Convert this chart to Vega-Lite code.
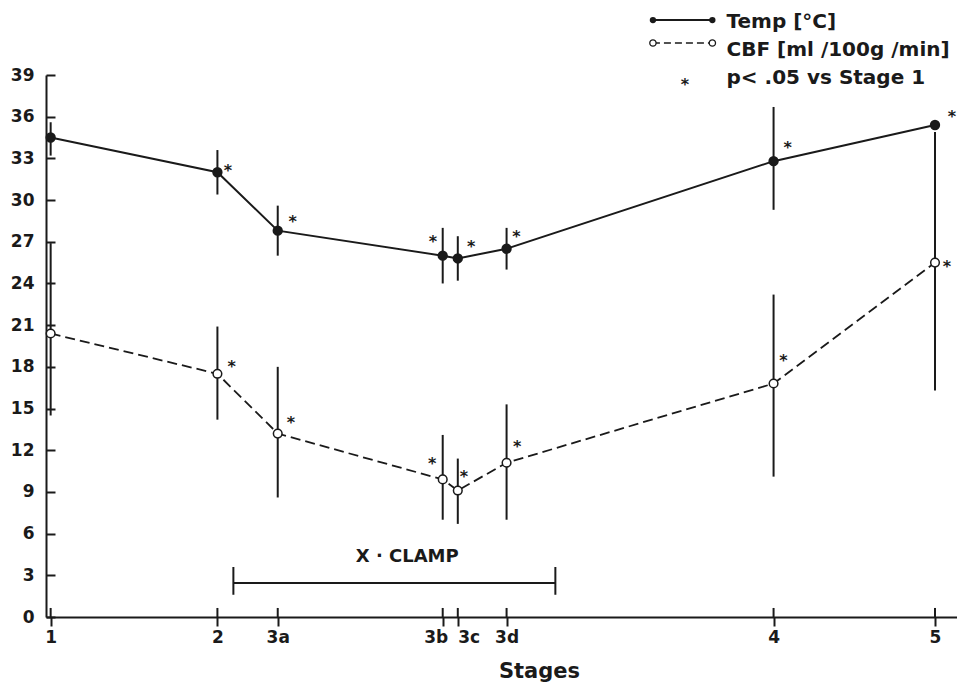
{
  "$schema": "https://vega.github.io/schema/vega-lite/v6.json",
  "width": 911,
  "height": 542,
  "autosize": {"type": "none"},
  "padding": {"left": 46, "top": 75, "right": 0, "bottom": 65},
  "background": "white",
  "config": {"view": {"stroke": null}, "font": "DejaVu Sans"},
  "datasets": {
    "stages": [
      {"stage": "1", "pos": 0.3, "temp": 34.5, "tempLo": 33.2, "tempHi": 35.6, "cbf": 20.4, "cbfLo": 14.5, "cbfHi": 26.9},
      {"stage": "2", "pos": 19.1, "temp": 32.0, "tempLo": 30.4, "tempHi": 33.6, "cbf": 17.5, "cbfLo": 14.2, "cbfHi": 20.9},
      {"stage": "3a", "pos": 25.9, "temp": 27.8, "tempLo": 26.0, "tempHi": 29.6, "cbf": 13.2, "cbfLo": 8.6, "cbfHi": 18.0},
      {"stage": "3b", "pos": 44.5, "temp": 26.0, "tempLo": 24.0, "tempHi": 28.0, "cbf": 9.9, "cbfLo": 7.0, "cbfHi": 13.1},
      {"stage": "3c", "pos": 46.2, "temp": 25.8, "tempLo": 24.2, "tempHi": 27.4, "cbf": 9.1, "cbfLo": 6.7, "cbfHi": 11.4},
      {"stage": "3d", "pos": 51.7, "temp": 26.5, "tempLo": 25.0, "tempHi": 28.0, "cbf": 11.1, "cbfLo": 7.0, "cbfHi": 15.3},
      {"stage": "4", "pos": 81.8, "temp": 32.8, "tempLo": 29.3, "tempHi": 36.7, "cbf": 16.8, "cbfLo": 10.1, "cbfHi": 23.2},
      {"stage": "5", "pos": 100, "temp": 35.4, "tempLo": 35.1, "tempHi": 35.7, "cbf": 25.5, "cbfLo": 16.3, "cbfHi": 34.9}
    ],
    "stars": [
      {"sx": 20.3, "sy": 32.37}, {"sx": 27.6, "sy": 28.7}, {"sx": 43.4, "sy": 27.27},
      {"sx": 47.7, "sy": 26.9}, {"sx": 52.8, "sy": 27.6}, {"sx": 83.4, "sy": 34.0},
      {"sx": 101.9, "sy": 36.3},
      {"sx": 20.7, "sy": 18.27}, {"sx": 27.4, "sy": 14.24}, {"sx": 43.3, "sy": 11.3},
      {"sx": 46.9, "sy": 10.36}, {"sx": 52.9, "sy": 12.5}, {"sx": 82.9, "sy": 18.7},
      {"sx": 101.35, "sy": 25.5},
      {"sx": 71.8, "sy": 38.6}
    ],
    "clamp": [{"x1": 20.9, "x2": 57.2, "y": 2.45}],
    "clampEnds": [{"x": 20.9, "lo": 1.6, "hi": 3.6}, {"x": 57.2, "lo": 1.6, "hi": 3.6}],
    "labels": [
      {"x": 40.5, "y": 4.3, "label": "X · CLAMP", "kind": "clamp"}
    ],
    "legendLines": [
      {"series": "Temp", "x1": 68.2, "x2": 74.9, "y": 42.95},
      {"series": "CBF", "x1": 68.2, "x2": 74.9, "y": 41.3}
    ],
    "legendPts": [
      {"series": "Temp", "x": 68.2, "y": 42.95}, {"series": "Temp", "x": 74.9, "y": 42.95},
      {"series": "CBF", "x": 68.2, "y": 41.3}, {"series": "CBF", "x": 74.9, "y": 41.3}
    ],
    "legendText": [
      {"x": 76.5, "y": 42.8, "label": "Temp [°C]"},
      {"x": 76.5, "y": 40.8, "label": "CBF [ml /100g /min]"},
      {"x": 76.5, "y": 38.8, "label": "p< .05 vs Stage 1"}
    ]
  },
  "layer": [
    {
      "data": {"name": "stages"},
      "mark": {"type": "line", "stroke": "#1a1a1a", "strokeWidth": 2},
      "encoding": {
        "x": {
          "field": "pos", "type": "quantitative",
          "scale": {"domain": [-0.225, 102.48], "nice": false, "zero": false},
          "axis": {
            "title": "Stages",
            "values": [0.3, 19.1, 25.9, 44.5, 46.2, 51.7, 81.8, 100],
            "labelExpr": "datum.value < 1 ? '1' : datum.value < 20 ? '2' : datum.value < 30 ? '3a' : datum.value < 45 ? '3b' : datum.value < 50 ? '3c' : datum.value < 60 ? '3d' : datum.value < 90 ? '4' : '5'",
            "labelAlign": {"condition": [{"test": "datum.value > 44 && datum.value < 45", "value": "right"}, {"test": "datum.value > 46 && datum.value < 47", "value": "left"}], "value": "center"},
            "labelOffset": {"condition": {"test": "datum.value > 44 && datum.value < 45", "value": 5}, "value": 0},
            "grid": false,
            "tickSize": 9, "tickWidth": 2, "tickColor": "#1a1a1a",
            "domainColor": "#1a1a1a", "domainWidth": 2,
            "labelFont": "DejaVu Sans", "labelFontWeight": "bold", "labelFontSize": 17,
            "labelColor": "#1a1a1a", "labelPadding": 3, "labelFlush": false, "labelOverlap": false,
            "titleFont": "DejaVu Sans", "titleFontSize": 21, "titleFontWeight": "bold", "titleColor": "#1a1a1a",
            "titleX": 493, "titleY": 60, "titleBaseline": "alphabetic", "titleAlign": "center"
          }
        },
        "y": {
          "field": "temp", "type": "quantitative",
          "scale": {"domain": [0, 39], "nice": false, "zero": true},
          "axis": {
            "title": null,
            "values": [0, 3, 6, 9, 12, 15, 18, 21, 24, 27, 30, 33, 36, 39],
            "grid": false,
            "tickSize": -9, "tickWidth": 2, "tickColor": "#1a1a1a",
            "domainColor": "#1a1a1a", "domainWidth": 2,
            "labelFont": "DejaVu Sans", "labelFontWeight": "bold", "labelFontSize": 17,
            "labelColor": "#1a1a1a", "labelPadding": 21, "labelFlush": false, "labelOverlap": false
          }
        }
      }
    },
    {
      "data": {"name": "stages"},
      "mark": {"type": "rule", "stroke": "#1a1a1a", "strokeWidth": 2},
      "encoding": {
        "x": {"field": "pos", "type": "quantitative"},
        "y": {"datum": 0, "type": "quantitative"},
        "y2": {"datum": 0.65}
      }
    },
    {
      "data": {"name": "stages"},
      "mark": {"type": "rule", "stroke": "#1a1a1a", "strokeWidth": 2},
      "encoding": {
        "x": {"field": "pos", "type": "quantitative"},
        "y": {"field": "tempLo", "type": "quantitative"},
        "y2": {"field": "tempHi"}
      }
    },
    {
      "data": {"name": "stages"},
      "mark": {"type": "line", "stroke": "#1a1a1a", "strokeWidth": 1.8, "strokeDash": [10, 5]},
      "encoding": {
        "x": {"field": "pos", "type": "quantitative"},
        "y": {"field": "cbf", "type": "quantitative"}
      }
    },
    {
      "data": {"name": "stages"},
      "mark": {"type": "rule", "stroke": "#1a1a1a", "strokeWidth": 2},
      "encoding": {
        "x": {"field": "pos", "type": "quantitative"},
        "y": {"field": "cbfLo", "type": "quantitative"},
        "y2": {"field": "cbfHi"}
      }
    },
    {
      "data": {"name": "stages"},
      "mark": {"type": "point", "shape": "circle", "filled": true, "fill": "#1a1a1a", "stroke": "#1a1a1a", "size": 70, "opacity": 1},
      "encoding": {
        "x": {"field": "pos", "type": "quantitative"},
        "y": {"field": "temp", "type": "quantitative"}
      }
    },
    {
      "data": {"name": "stages"},
      "mark": {"type": "point", "shape": "circle", "filled": false, "fill": "white", "fillOpacity": 1, "stroke": "#1a1a1a", "strokeWidth": 1.5, "size": 75, "opacity": 1},
      "encoding": {
        "x": {"field": "pos", "type": "quantitative"},
        "y": {"field": "cbf", "type": "quantitative"}
      }
    },
    {
      "data": {"name": "stars"},
      "mark": {"type": "text", "text": "*", "font": "DejaVu Sans", "fontWeight": "bold", "fontSize": 16, "color": "#1a1a1a", "align": "center", "baseline": "alphabetic", "dy": 9},
      "encoding": {
        "x": {"field": "sx", "type": "quantitative"},
        "y": {"field": "sy", "type": "quantitative"}
      }
    },
    {
      "data": {"name": "clamp"},
      "mark": {"type": "rule", "stroke": "#1a1a1a", "strokeWidth": 2},
      "encoding": {
        "x": {"field": "x1", "type": "quantitative"},
        "x2": {"field": "x2"},
        "y": {"field": "y", "type": "quantitative"}
      }
    },
    {
      "data": {"name": "clampEnds"},
      "mark": {"type": "rule", "stroke": "#1a1a1a", "strokeWidth": 2},
      "encoding": {
        "x": {"field": "x", "type": "quantitative"},
        "y": {"field": "lo", "type": "quantitative"},
        "y2": {"field": "hi"}
      }
    },
    {
      "data": {"name": "labels"},
      "mark": {"type": "text", "font": "DejaVu Sans", "fontWeight": "bold", "fontSize": 18, "color": "#1a1a1a", "align": "center", "baseline": "middle"},
      "encoding": {
        "x": {"field": "x", "type": "quantitative"},
        "y": {"field": "y", "type": "quantitative"},
        "text": {"field": "label"}
      }
    },
    {
      "data": {"name": "legendLines"},
      "transform": [{"filter": "datum.series == 'Temp'"}],
      "mark": {"type": "rule", "stroke": "#1a1a1a", "strokeWidth": 2},
      "encoding": {
        "x": {"field": "x1", "type": "quantitative"},
        "x2": {"field": "x2"},
        "y": {"field": "y", "type": "quantitative"}
      }
    },
    {
      "data": {"name": "legendLines"},
      "transform": [{"filter": "datum.series == 'CBF'"}],
      "mark": {"type": "rule", "stroke": "#1a1a1a", "strokeWidth": 1.5, "strokeDash": [7, 4]},
      "encoding": {
        "x": {"field": "x1", "type": "quantitative"},
        "x2": {"field": "x2"},
        "y": {"field": "y", "type": "quantitative"}
      }
    },
    {
      "data": {"name": "legendPts"},
      "transform": [{"filter": "datum.series == 'Temp'"}],
      "mark": {"type": "point", "shape": "circle", "filled": true, "fill": "#1a1a1a", "size": 40, "opacity": 1},
      "encoding": {
        "x": {"field": "x", "type": "quantitative"},
        "y": {"field": "y", "type": "quantitative"}
      }
    },
    {
      "data": {"name": "legendPts"},
      "transform": [{"filter": "datum.series == 'CBF'"}],
      "mark": {"type": "point", "shape": "circle", "filled": false, "fill": "white", "fillOpacity": 1, "stroke": "#1a1a1a", "strokeWidth": 1.3, "size": 40, "opacity": 1},
      "encoding": {
        "x": {"field": "x", "type": "quantitative"},
        "y": {"field": "y", "type": "quantitative"}
      }
    },
    {
      "data": {"name": "legendText"},
      "mark": {"type": "text", "font": "DejaVu Sans", "fontWeight": "bold", "fontSize": 20, "color": "#1a1a1a", "align": "left", "baseline": "middle"},
      "encoding": {
        "x": {"field": "x", "type": "quantitative"},
        "y": {"field": "y", "type": "quantitative"},
        "text": {"field": "label"}
      }
    }
  ]
}
